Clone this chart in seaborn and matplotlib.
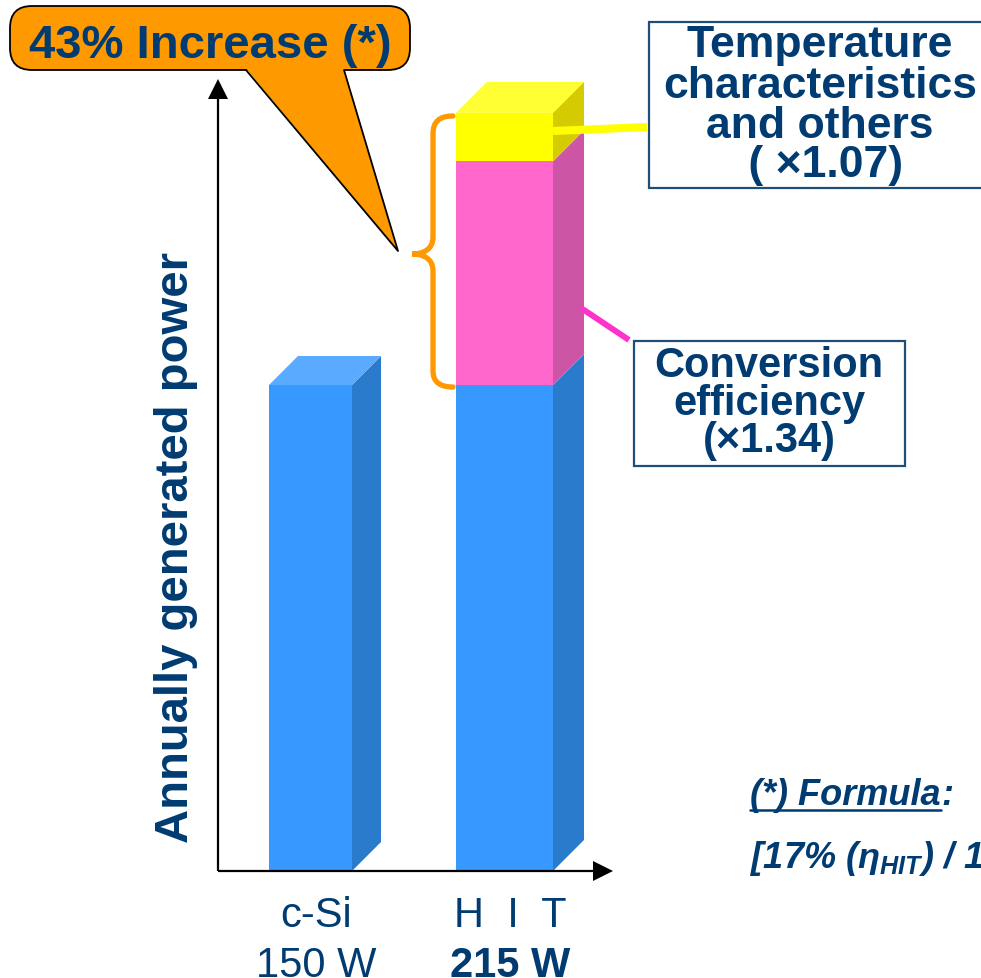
import matplotlib
matplotlib.use("Agg")
import matplotlib.pyplot as plt
import matplotlib.transforms as mtransforms
from matplotlib.patches import Polygon, FancyBboxPatch, Rectangle, PathPatch
from matplotlib.path import Path
import pandas as pd
import seaborn as sns

# ---- data (relative annual generated power, c-Si = 1) ----
categories = ["c-Si", "HIT"]
base_power = [1.00, 1.00]
conversion_gain = [0.00, 0.46]
temperature_gain = [0.00, 0.10]
tick_names = ["c-Si", "H  I  T"]
tick_watts = ["150 W", "215 W"]

# ---- styling ----
W, H = 981, 979
NAVY = "#003B71"
BOX_EDGE = "#1F4E79"
ORANGE = "#FF9900"
front_colors = ["#3799FF", "#FF66CC", "#FFFF00"]
side_colors = ["#2B7BCC", "#CC55A5", "#D4CC00"]
top_colors = ["#5AAAFF", "#FF88DD", "#FFFF33"]
bar_width_px = [83, 97]
depth_px = [29, 31]
PX_X, PX_Y = 194.0, 486.0       # pixels per data unit
X0_PX, BASE_PX = 310.5, 872.0   # pixel position of first category / baseline

sns.set_theme(style="white")
plt.rcParams["font.family"] = ["Liberation Sans", "DejaVu Sans"]
plt.rcParams["mathtext.fontset"] = "custom"
plt.rcParams["mathtext.it"] = "Liberation Sans:italic:bold"
plt.rcParams["mathtext.rm"] = "Liberation Sans:italic:bold"
plt.rcParams["mathtext.bf"] = "Liberation Sans:italic:bold"

fig = plt.figure(figsize=(W / 100, H / 100), dpi=100)
ax = fig.add_axes([0, 0, 1, 1])

df = pd.DataFrame({"category": categories, "base": base_power,
                   "conv": conversion_gain, "temp": temperature_gain})
df["top_base"] = df["base"]
df["top_conv"] = df["base"] + df["conv"]
df["top_temp"] = df["top_conv"] + df["temp"]

# stacked front faces, tallest layer first
for col, c in [("top_temp", front_colors[2]), ("top_conv", front_colors[1]),
               ("top_base", front_colors[0])]:
    sns.barplot(data=df, x="category", y=col, color=c, saturation=1,
                linewidth=0, ax=ax, zorder=2)

ax.set_xlim(-X0_PX / PX_X, (W - X0_PX) / PX_X)
ax.set_ylim(-(H - BASE_PX) / PX_Y, BASE_PX / PX_Y)
ax.axis("off")

# resize the bar fronts
for i, p in enumerate(ax.patches):
    k = i % len(categories)
    w = bar_width_px[k] / PX_X
    p.set_x(k - w / 2)
    p.set_width(w)

# side and top faces for the pseudo-3D look
for k in range(len(categories)):
    w = bar_width_px[k] / PX_X
    x1 = k + w / 2
    x0 = k - w / 2
    dx = depth_px[k] / PX_X
    dy = depth_px[k] / PX_Y
    lo = 0.0
    segs = [df["base"][k], df["conv"][k], df["temp"][k]]
    top_idx = max(i for i, s in enumerate(segs) if s > 0)
    for j, s in enumerate(segs):
        if s <= 0:
            continue
        hi = lo + s
        ax.add_patch(Polygon([(x1, lo), (x1 + dx, lo + dy), (x1 + dx, hi + dy), (x1, hi)],
                             closed=True, fc=side_colors[j], ec="none", zorder=3))
        if j == top_idx:
            ax.add_patch(Polygon([(x0, hi), (x0 + dx, hi + dy), (x1 + dx, hi + dy), (x1, hi)],
                                 closed=True, fc=top_colors[j], ec="none", zorder=3))
        lo = hi

# ---- pixel overlay for axes arrows and annotations ----
ov = fig.add_axes([0, 0, 1, 1], zorder=5)
ov.set_xlim(0, W)
ov.set_ylim(H, 0)
ov.axis("off")
ov.patch.set_alpha(0)

# axes with arrow heads
ov.plot([218, 218], [872, 98], color="black", lw=1.6, solid_capstyle="butt")
ov.add_patch(Polygon([(208, 100), (228, 100), (218, 80)], closed=True, fc="black", ec="none"))
ov.plot([218, 595], [872, 872], color="black", lw=1.6, solid_capstyle="butt")
ov.add_patch(Polygon([(593, 862), (593, 882), (613, 872)], closed=True, fc="black", ec="none"))

ov.text(176, 548, "Annually generated power", rotation=90, ha="center", va="center",
        fontsize=34, fontweight="bold", color=NAVY)

# category labels under the bars
lab_tf = mtransforms.blended_transform_factory(ax.transData, ov.transData)
lab_tf = lab_tf + mtransforms.ScaledTranslation(6 / 100, 0, fig.dpi_scale_trans)
for k in range(len(categories)):
    ov.text(k, 927, tick_names[k], transform=lab_tf, ha="center", va="baseline",
            fontsize=30, color=NAVY)
    ov.text(k, 977, tick_watts[k], transform=lab_tf, ha="center", va="baseline",
            fontsize=30, color=NAVY, fontweight="bold" if k == 1 else "normal")

# orange curly brace spanning the HIT gain
brace = Path([(453, 117), (440, 117), (433, 122), (433, 135),
              (433, 238),
              (433, 250), (424, 255), (412, 255),
              (424, 255), (433, 260), (433, 272),
              (433, 372),
              (433, 383), (440, 388), (453, 388)],
             [Path.MOVETO, Path.CURVE4, Path.CURVE4, Path.CURVE4,
              Path.LINETO,
              Path.CURVE4, Path.CURVE4, Path.CURVE4,
              Path.CURVE4, Path.CURVE4, Path.CURVE4,
              Path.LINETO,
              Path.CURVE4, Path.CURVE4, Path.CURVE4])
ov.add_patch(PathPatch(brace, fc="none", ec=ORANGE, lw=3.8, capstyle="round"))

# callout bubble
ov.add_patch(FancyBboxPatch((10, 7), 400, 64, boxstyle="round,pad=0,rounding_size=22",
                            fc=ORANGE, ec="black", lw=1.3, zorder=6))
ov.add_patch(Polygon([(246, 69.5), (344, 69.5), (398, 252)], closed=True,
                     fc=ORANGE, ec="none", zorder=7))
ov.plot([246, 398, 344], [71, 252, 71], color="black", lw=1.3, zorder=7)
ov.text(210, 58, "43% Increase (*)", ha="center", va="baseline", fontsize=34,
        fontweight="bold", color=NAVY, zorder=8)

# leader lines from the stacked segments
ov.plot([553, 647], [132, 128], color="#FFFF00", lw=5.8, solid_capstyle="butt", zorder=4)
ov.plot([581, 629], [309, 341], color="#FF33CC", lw=4.3, solid_capstyle="butt", zorder=4)

# factor boxes
ov.add_patch(Rectangle((649, 23), 400, 166, fc="white", ec=BOX_EDGE, lw=1.6, zorder=5))
for txt, yb in zip(["Temperature", "characteristics", "and others", " ( \u00d71.07)"],
                   [57, 98, 138, 177]):
    ov.text(820, yb, txt, ha="center", va="baseline", fontsize=32,
            fontweight="bold", color=NAVY, zorder=6)

ov.add_patch(Rectangle((634, 342), 271, 125, fc="white", ec=BOX_EDGE, lw=1.6, zorder=5))
for txt, yb in zip(["Conversion", "efficiency", "(\u00d71.34)"], [377, 415, 452]):
    ov.text(769, yb, txt, ha="center", va="baseline", fontsize=30,
            fontweight="bold", color=NAVY, zorder=6)

# footnote with the formula; underline sized from the rendered heading
head = ov.text(750, 805, "(*) Formula", ha="left", va="baseline", fontsize=26,
               fontweight="bold", fontstyle="italic", color=NAVY)
renderer = fig.canvas.get_renderer()
bb = head.get_window_extent(renderer).transformed(ov.transData.inverted())
x_end = max(bb.x0, bb.x1)
ov.plot([750, x_end], [811, 811], color=NAVY, lw=1.8)
ov.text(x_end + 1, 805, ":", ha="left", va="baseline", fontsize=26,
        fontweight="bold", fontstyle="italic", color=NAVY)
ov.text(750, 868, r"[17% ($\eta_{HIT}$) / 12.7% ($\eta_{c-Si}$)] $\times$ 1.07 = 1.43",
        ha="left", va="baseline", fontsize=26, fontweight="bold", fontstyle="italic",
        color=NAVY)

fig.savefig("out.png", dpi=100)
